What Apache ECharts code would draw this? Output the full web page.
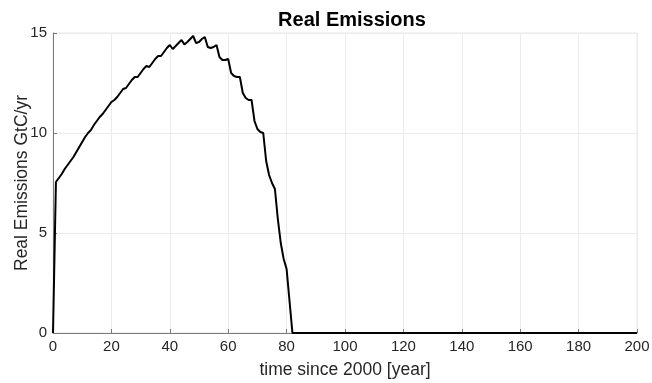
<!DOCTYPE html>
<html>
<head>
<meta charset="utf-8">
<script src="https://cdn.jsdelivr.net/npm/echarts@6/dist/echarts.min.js"></script>
<style>
  html, body { margin: 0; padding: 0; background: #ffffff; }
  #chart { width: 652px; height: 383px; }
</style>
</head>
<body>
<div id="chart"></div>
<script>
// Years since 2000 and real emissions (GtC/yr)
const years = [
  0, 1, 2, 3, 4, 5, 6, 7, 8, 9,
  10, 11, 12, 13, 14, 15, 16, 17, 18, 19,
  20, 21, 22, 23, 24, 25, 26, 27, 28, 29,
  30, 31, 32, 33, 34, 35, 36, 37, 38, 39,
  40, 41, 42, 43, 44, 45, 46, 47, 48, 49,
  50, 51, 52, 53, 54, 55, 56, 57, 58, 59,
  60, 61, 62, 63, 64, 65, 66, 67, 68, 69,
  70, 71, 72, 73, 74, 75, 76, 77, 78, 79,
  80, 81, 82, 200
];
const emissions = [
  0, 7.55, 7.75, 7.95, 8.2, 8.4, 8.6, 8.8, 9.05, 9.3,
  9.55, 9.8, 10.0, 10.15, 10.4, 10.6, 10.8, 10.95, 11.15, 11.35,
  11.55, 11.65, 11.8, 12.0, 12.2, 12.25, 12.45, 12.65, 12.8, 12.8,
  13.0, 13.2, 13.35, 13.3, 13.5, 13.7, 13.85, 13.85, 14.05, 14.25,
  14.4, 14.2, 14.35, 14.5, 14.65, 14.43, 14.55, 14.7, 14.85, 14.5,
  14.55, 14.7, 14.8, 14.3, 14.25, 14.3, 14.4, 13.8, 13.65, 13.65,
  13.7, 13.0, 12.85, 12.8, 12.8, 12.0, 11.75, 11.65, 11.65, 10.6,
  10.2, 10.05, 10.0, 8.6, 7.9, 7.5, 7.2, 5.7, 4.5, 3.7,
  3.2, 1.6, 0, 0
];
const xTicks = { min: 0, max: 200, step: 20 };
const yTicks = { min: 0, max: 15, step: 5 };

const points = years.map((t, i) => [t, emissions[i]]);

const fontFamily = '"Liberation Sans", Arial, Helvetica, sans-serif';
const labelColor = '#262626';
const axisColor = '#7a7a7a';

const chart = echarts.init(document.getElementById('chart'), null, { renderer: 'canvas' });
chart.setOption({
  animation: false,
  backgroundColor: '#ffffff',
  title: {
    text: 'Real Emissions',
    left: 347,
    textAlign: 'center',
    top: 5,
    textStyle: { fontFamily, fontSize: 20, fontWeight: 'bold', color: '#000000' }
  },
  grid: {
    left: 53, right: 15, top: 33, bottom: 50,
    outerBoundsMode: 'none',
    containLabel: false,
    show: true, borderColor: '#e6e6e6', borderWidth: 1, backgroundColor: '#ffffff'
  },
  xAxis: {
    type: 'value',
    min: xTicks.min, max: xTicks.max, interval: xTicks.step,
    name: 'time since 2000 [year]',
    nameLocation: 'middle',
    nameGap: 28,
    nameMoveOverlap: false,
    nameTextStyle: { fontFamily, fontSize: 17.5, color: labelColor },
    axisLine: { show: true, onZero: false, lineStyle: { color: axisColor, width: 1 } },
    axisTick: { show: true, inside: true, length: 4, lineStyle: { color: axisColor } },
    axisLabel: { fontFamily, fontSize: 15, color: labelColor, margin: 6 },
    splitLine: { show: true, lineStyle: { color: '#ebebeb', width: 1 } }
  },
  yAxis: {
    type: 'value',
    min: yTicks.min, max: yTicks.max, interval: yTicks.step,
    name: 'Real Emissions GtC/yr',
    nameLocation: 'middle',
    nameGap: 22,
    nameMoveOverlap: false,
    nameTextStyle: { fontFamily, fontSize: 17.5, color: labelColor },
    axisLine: { show: true, lineStyle: { color: axisColor, width: 1 } },
    axisTick: { show: true, inside: true, length: 4, lineStyle: { color: axisColor } },
    axisLabel: { fontFamily, fontSize: 15, color: labelColor, margin: 6 },
    splitLine: { show: true, lineStyle: { color: '#ebebeb', width: 1 } }
  },
  series: [{
    type: 'line',
    data: points,
    showSymbol: false,
    smooth: false,
    lineStyle: { color: '#000000', width: 2 },
    z: 5
  }]
});
</script>
</body>
</html>
